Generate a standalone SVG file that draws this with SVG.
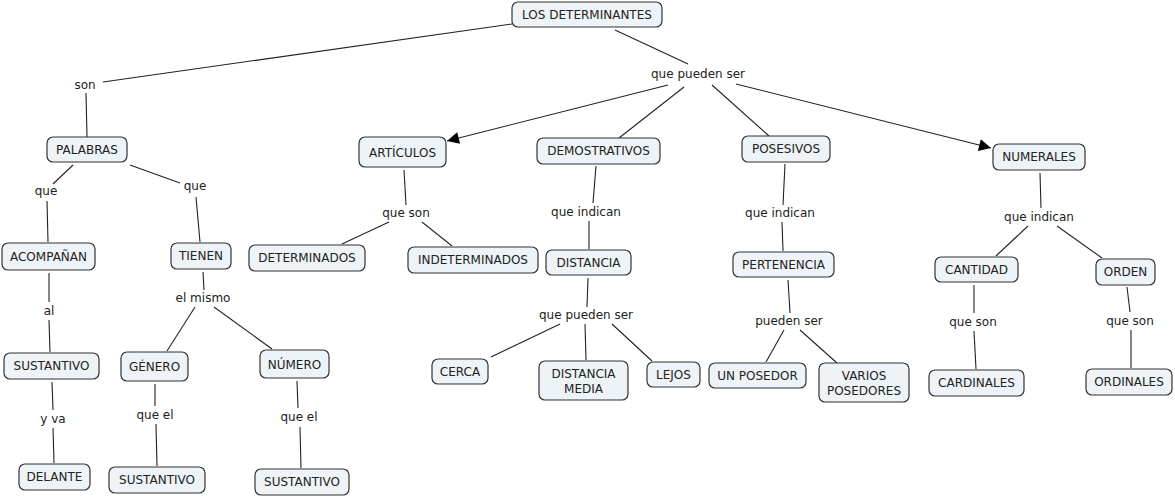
<svg xmlns="http://www.w3.org/2000/svg" width="1175" height="497" viewBox="0 0 1175 497">
<style>
.n rect{fill:#edf3f6;stroke:#333;stroke-width:1.2}
text{font-family:"DejaVu Sans","Liberation Sans",sans-serif;font-size:12px;fill:#222;text-anchor:middle;dominant-baseline:central}
.c line{stroke:#222;stroke-width:1.1}
</style>
<defs>
<marker id="ah" viewBox="0 0 10 10" refX="10" refY="5" markerWidth="14" markerHeight="12" markerUnits="userSpaceOnUse" orient="auto"><path d="M0,0L10,5L0,10z" fill="#000"/></marker>
</defs>
<rect width="1175" height="497" fill="#fff"/>
<g class="c">
<line x1="512" y1="24" x2="103" y2="82"/>
<line x1="86" y1="93" x2="87" y2="137"/>
<line x1="615" y1="30" x2="688" y2="64"/>
<line x1="668" y1="85" x2="447" y2="141" marker-end="url(#ah)"/>
<line x1="684" y1="87" x2="619" y2="138"/>
<line x1="712" y1="85" x2="769" y2="136"/>
<line x1="736" y1="84" x2="991" y2="148" marker-end="url(#ah)"/>
<line x1="73" y1="165" x2="53" y2="184"/>
<line x1="47" y1="201" x2="48" y2="242"/>
<line x1="130" y1="165" x2="180" y2="183"/>
<line x1="196" y1="197" x2="200" y2="242"/>
<line x1="49" y1="273" x2="49" y2="302"/>
<line x1="49" y1="320" x2="50" y2="352"/>
<line x1="203" y1="272" x2="204" y2="290"/>
<line x1="195" y1="307" x2="167" y2="351"/>
<line x1="214" y1="307" x2="272" y2="349"/>
<line x1="52" y1="382" x2="53" y2="410"/>
<line x1="53" y1="428" x2="54" y2="463"/>
<line x1="155" y1="384" x2="155" y2="406"/>
<line x1="156" y1="424" x2="157" y2="466"/>
<line x1="297" y1="381" x2="298" y2="408"/>
<line x1="300" y1="427" x2="301" y2="468"/>
<line x1="404" y1="170" x2="406" y2="205"/>
<line x1="389" y1="222" x2="342" y2="244"/>
<line x1="422" y1="222" x2="452" y2="246"/>
<line x1="596" y1="166" x2="593" y2="203"/>
<line x1="589" y1="221" x2="589" y2="249"/>
<line x1="588" y1="278" x2="587" y2="307"/>
<line x1="560" y1="324" x2="491" y2="357"/>
<line x1="585" y1="324" x2="586" y2="360"/>
<line x1="612" y1="324" x2="652" y2="361"/>
<line x1="785" y1="164" x2="783" y2="205"/>
<line x1="782" y1="222" x2="783" y2="251"/>
<line x1="788" y1="280" x2="790" y2="313"/>
<line x1="784" y1="330" x2="766" y2="362"/>
<line x1="800" y1="330" x2="837" y2="363"/>
<line x1="1040" y1="173" x2="1041" y2="208"/>
<line x1="1028" y1="226" x2="996" y2="256"/>
<line x1="1057" y1="226" x2="1102" y2="258"/>
<line x1="974" y1="285" x2="974" y2="313"/>
<line x1="974" y1="331" x2="976" y2="369"/>
<line x1="1127" y1="287" x2="1130" y2="312"/>
<line x1="1131" y1="330" x2="1131" y2="368"/>
</g>
<g id="labels">
<text x="85" y="85">son</text>
<text x="698" y="74">que pueden ser</text>
<text x="46" y="191">que</text>
<text x="195" y="186">que</text>
<text x="49" y="311">al</text>
<text x="203" y="298">el mismo</text>
<text x="53" y="419">y va</text>
<text x="155" y="415">que el</text>
<text x="299" y="417">que el</text>
<text x="406" y="213">que son</text>
<text x="586" y="212">que indican</text>
<text x="780" y="213">que indican</text>
<text x="1039" y="217">que indican</text>
<text x="586" y="315">que pueden ser</text>
<text x="789" y="321">pueden ser</text>
<text x="973" y="322">que son</text>
<text x="1130" y="321">que son</text>
</g>
<g id="n1" class="n"><rect x="512" y="2" width="150" height="25" rx="6"/><text x="587" y="14.5">LOS DETERMINANTES</text></g>
<g id="n2" class="n"><rect x="47" y="137" width="80" height="25" rx="6"/><text x="87" y="149.5">PALABRAS</text></g>
<g id="n3" class="n"><rect x="359" y="137" width="87" height="30" rx="6"/><text x="402.5" y="153">ARTÍCULOS</text></g>
<g id="n4" class="n"><rect x="537" y="138" width="123" height="26" rx="6"/><text x="598.5" y="151">DEMOSTRATIVOS</text></g>
<g id="n5" class="n"><rect x="742" y="136" width="88" height="26" rx="6"/><text x="786" y="149">POSESIVOS</text></g>
<g id="n6" class="n"><rect x="993" y="144" width="92" height="26" rx="6"/><text x="1039" y="157">NUMERALES</text></g>
<g id="n7" class="n"><rect x="2" y="243" width="93" height="27" rx="6"/><text x="48.5" y="256.5">ACOMPAÑAN</text></g>
<g id="n8" class="n"><rect x="171" y="243" width="60" height="26" rx="6"/><text x="201" y="256">TIENEN</text></g>
<g id="n9" class="n"><rect x="249" y="245" width="116" height="26" rx="6"/><text x="307" y="258">DETERMINADOS</text></g>
<g id="n10" class="n"><rect x="408" y="247" width="130" height="26" rx="6"/><text x="473" y="260">INDETERMINADOS</text></g>
<g id="n11" class="n"><rect x="546" y="250" width="85" height="25" rx="6"/><text x="588.5" y="262.5">DISTANCIA</text></g>
<g id="n12" class="n"><rect x="733" y="252" width="101" height="25" rx="6"/><text x="783.5" y="264.5">PERTENENCIA</text></g>
<g id="n13" class="n"><rect x="935" y="257" width="83" height="25" rx="6"/><text x="976.5" y="269.5">CANTIDAD</text></g>
<g id="n14" class="n"><rect x="1096" y="259" width="59" height="26" rx="6"/><text x="1125.5" y="272">ORDEN</text></g>
<g id="n15" class="n"><rect x="4" y="353" width="95" height="26" rx="6"/><text x="51.5" y="366">SUSTANTIVO</text></g>
<g id="n16" class="n"><rect x="121" y="352" width="67" height="29" rx="6"/><text x="154.5" y="367">GÉNERO</text></g>
<g id="n17" class="n"><rect x="260" y="350" width="69" height="28" rx="6"/><text x="294.5" y="365">NÚMERO</text></g>
<g id="n18" class="n"><rect x="432" y="359" width="56" height="25" rx="6"/><text x="460" y="371.5">CERCA</text></g>
<g id="n19" class="n"><rect x="539" y="361" width="89" height="39" rx="6"/><text x="583.5" y="373.5">DISTANCIA</text><text x="583.5" y="388.5">MEDIA</text></g>
<g id="n20" class="n"><rect x="647" y="362" width="53" height="25" rx="6"/><text x="673.5" y="374.5">LEJOS</text></g>
<g id="n21" class="n"><rect x="709" y="363" width="97" height="25" rx="6"/><text x="757.5" y="375.5">UN POSEDOR</text></g>
<g id="n22" class="n"><rect x="819" y="363" width="90" height="39" rx="6"/><text x="864" y="375.5">VARIOS</text><text x="864" y="390.5">POSEDORES</text></g>
<g id="n23" class="n"><rect x="929" y="370" width="95" height="26" rx="6"/><text x="976.5" y="383">CARDINALES</text></g>
<g id="n24" class="n"><rect x="1086" y="369" width="86" height="26" rx="6"/><text x="1129" y="382">ORDINALES</text></g>
<g id="n25" class="n"><rect x="19" y="464" width="71" height="26" rx="6"/><text x="54.5" y="477">DELANTE</text></g>
<g id="n26" class="n"><rect x="109" y="467" width="96" height="26" rx="6"/><text x="157" y="480">SUSTANTIVO</text></g>
<g id="n27" class="n"><rect x="255" y="469" width="94" height="26" rx="6"/><text x="302" y="482">SUSTANTIVO</text></g>
</svg>
